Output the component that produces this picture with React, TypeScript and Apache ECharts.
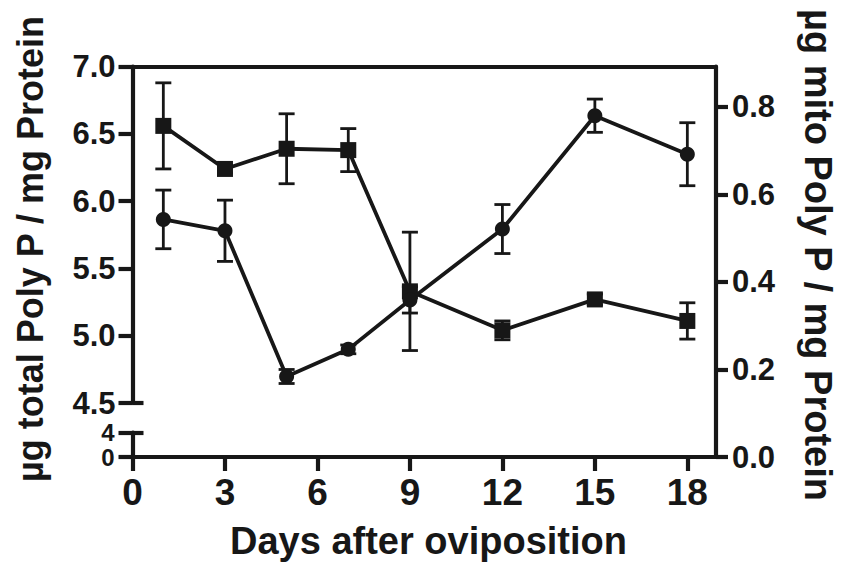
import React, { useEffect, useRef } from "react";
import * as echarts from "echarts";

const days = [1, 3, 5, 7, 9, 12, 15, 18];
// squares: total Poly P (left axis, µg / mg protein)
const totalPolyP = [6.56, 6.24, 6.39, 6.38, 5.33, 5.04, 5.27, 5.11];
const totalPolyPErr = [0.32, 0.03, 0.26, 0.16, 0.44, 0.07, 0.04, 0.135];
// circles: mito Poly P (right axis, µg / mg protein)
const mitoPolyP = [0.543, 0.517, 0.184, 0.246, 0.359, 0.521, 0.78, 0.692];
const mitoPolyPErr = [0.067, 0.07, 0.016, 0.01, 0.03, 0.056, 0.038, 0.072];

const xTicks = [0, 3, 6, 9, 12, 15, 18];
const leftUpperTicks = [4.5, 5.0, 5.5, 6.0, 6.5, 7.0];
const leftLowerTicks = [0, 4];
const rightTicks = [0, 0.2, 0.4, 0.6, 0.8];

const INK = "#171717";
const FONT = '"Liberation Sans", Arial, sans-serif';

const X_MAX = 18.93;
const AX_W = 4.2;

function errorSeries(vals: number[], errs: number[], xi: number, yi: number) {
  return {
    type: "custom",
    xAxisIndex: xi,
    yAxisIndex: yi,
    z: 2,
    data: days.map((d, i) => [d, vals[i] - errs[i], vals[i] + errs[i]]),
    renderItem: (params: any, api: any) => {
      const lo = api.coord([api.value(0), api.value(1)]);
      const hi = api.coord([api.value(0), api.value(2)]);
      const hw = 8;
      const style = { stroke: INK, lineWidth: 2.8 };
      return {
        type: "group",
        children: [
          { type: "line", shape: { x1: lo[0], y1: lo[1], x2: hi[0], y2: hi[1] }, style },
          { type: "line", shape: { x1: lo[0] - hw, y1: lo[1], x2: lo[0] + hw, y2: lo[1] }, style },
          { type: "line", shape: { x1: hi[0] - hw, y1: hi[1], x2: hi[0] + hw, y2: hi[1] }, style },
        ],
      };
    },
  };
}

export default function App() {
  const ref = useRef<HTMLDivElement>(null);
  useEffect(() => {
    if (!ref.current) return;
    const chart = echarts.init(ref.current, undefined, { renderer: "svg" });
    const gl = 132.5;
    const gw = 583.5;
    const labelStyle = {
      color: INK,
      fontFamily: FONT,
      fontWeight: "bold" as const,
      hideOverlap: false,
      showMinLabel: true,
      showMaxLabel: true,
    };
    const line = { show: true, onZero: false, lineStyle: { color: INK, width: AX_W } };
    const noLine = { show: false, onZero: false };
    const tickStyle = { color: INK, width: AX_W };
    const hiddenX = (gridIndex: number) => ({
      type: "value",
      gridIndex,
      min: 0,
      max: X_MAX,
      show: false,
    });
    const lowerAxis = (showLine: boolean, tickVals: number[], inside: boolean, labelVals: number[] | null) => ({
      type: "value",
      gridIndex: 2,
      position: "left",
      min: leftLowerTicks[0],
      max: leftLowerTicks[1],
      axisLine: showLine ? line : noLine,
      axisTick: { show: true, inside, length: inside ? 11 : 14, lineStyle: tickStyle, customValues: tickVals },
      axisLabel: labelVals
        ? { ...labelStyle, fontSize: 24, lineHeight: 24, margin: 18, customValues: labelVals, formatter: (v: number) => String(v) }
        : { show: false },
      splitLine: { show: false },
    });
    chart.setOption({
      animation: false,
      backgroundColor: "#ffffff",
      grid: [
        { left: gl, top: 66.7, width: gw, height: 390.3 },
        { left: gl, top: 66.7, width: gw, height: 336.3 },
        { left: gl, top: 432.5, width: gw, height: 24.5 },
      ],
      xAxis: [
        {
          type: "value",
          gridIndex: 0,
          position: "bottom",
          min: 0,
          max: X_MAX,
          axisLine: line,
          axisTick: { show: true, inside: false, length: 14, lineStyle: tickStyle, customValues: xTicks },
          axisLabel: { ...labelStyle, fontSize: 37, margin: 17, customValues: xTicks, formatter: (v: number) => String(v) },
          splitLine: { show: false },
        },
        {
          type: "value",
          gridIndex: 0,
          position: "top",
          min: 0,
          max: X_MAX,
          axisLine: line,
          axisTick: { show: false },
          axisLabel: { show: false },
          splitLine: { show: false },
        },
        hiddenX(1),
        hiddenX(2),
      ],
      yAxis: [
        {
          type: "value",
          gridIndex: 0,
          position: "right",
          min: 0,
          max: 0.892,
          axisLine: line,
          axisTick: { show: true, inside: false, length: 12, lineStyle: tickStyle, customValues: rightTicks },
          axisLabel: { ...labelStyle, fontSize: 31, margin: 16, customValues: rightTicks, formatter: (v: number) => v.toFixed(1) },
          splitLine: { show: false },
        },
        {
          type: "value",
          gridIndex: 1,
          position: "left",
          min: 4.5,
          max: 7.0,
          axisLine: line,
          axisTick: { show: true, inside: false, length: 14, lineStyle: tickStyle, customValues: leftUpperTicks },
          axisLabel: { ...labelStyle, fontSize: 31, margin: 17, customValues: leftUpperTicks, formatter: (v: number) => v.toFixed(1) },
          splitLine: { show: false },
        },
        {
          type: "value",
          gridIndex: 1,
          position: "left",
          min: 4.5,
          max: 7.0,
          axisLine: noLine,
          axisTick: { show: true, inside: true, length: 11, lineStyle: tickStyle, customValues: [4.5] },
          axisLabel: { show: false },
          splitLine: { show: false },
        },
        lowerAxis(true, [leftLowerTicks[0]], false, [leftLowerTicks[0]]),
        lowerAxis(false, [leftLowerTicks[1]], false, [leftLowerTicks[1]]),
        lowerAxis(false, [leftLowerTicks[1]], true, null),
      ],
      series: [
        errorSeries(totalPolyP, totalPolyPErr, 2, 1),
        errorSeries(mitoPolyP, mitoPolyPErr, 0, 0),
        {
          type: "line",
          name: "total Poly P",
          xAxisIndex: 2,
          yAxisIndex: 1,
          z: 3,
          data: days.map((d, i) => [d, totalPolyP[i]]),
          symbol: "rect",
          symbolSize: 16,
          showSymbol: true,
          lineStyle: { color: INK, width: 3.8 },
          itemStyle: { color: INK },
        },
        {
          type: "line",
          name: "mito Poly P",
          xAxisIndex: 0,
          yAxisIndex: 0,
          z: 3,
          data: days.map((d, i) => [d, mitoPolyP[i]]),
          symbol: "circle",
          symbolSize: 15,
          showSymbol: true,
          lineStyle: { color: INK, width: 3.8 },
          itemStyle: { color: INK },
        },
      ],
      graphic: [
        {
          type: "text",
          x: 30,
          y: 249,
          rotation: Math.PI / 2,
          style: {
            text: "µg total Poly P / mg Protein",
            fontSize: 36,
            fontWeight: "bold",
            fontFamily: FONT,
            fill: INK,
            align: "center",
            verticalAlign: "middle",
          },
        },
        {
          type: "text",
          x: 818,
          y: 255,
          rotation: -Math.PI / 2,
          style: {
            text: "µg mito Poly P / mg Protein",
            fontSize: 38,
            fontWeight: "bold",
            fontFamily: FONT,
            fill: INK,
            align: "center",
            verticalAlign: "middle",
          },
        },
        {
          type: "text",
          x: 428.5,
          y: 541,
          style: {
            text: "Days after oviposition",
            fontSize: 38,
            fontWeight: "bold",
            fontFamily: FONT,
            fill: INK,
            align: "center",
            verticalAlign: "middle",
          },
        },
      ],
    });
    return () => chart.dispose();
  }, []);
  return (
    <div
      ref={ref}
      style={{ position: "fixed", left: 0, top: 0, width: 845, height: 564, background: "#fff" }}
    />
  );
}
